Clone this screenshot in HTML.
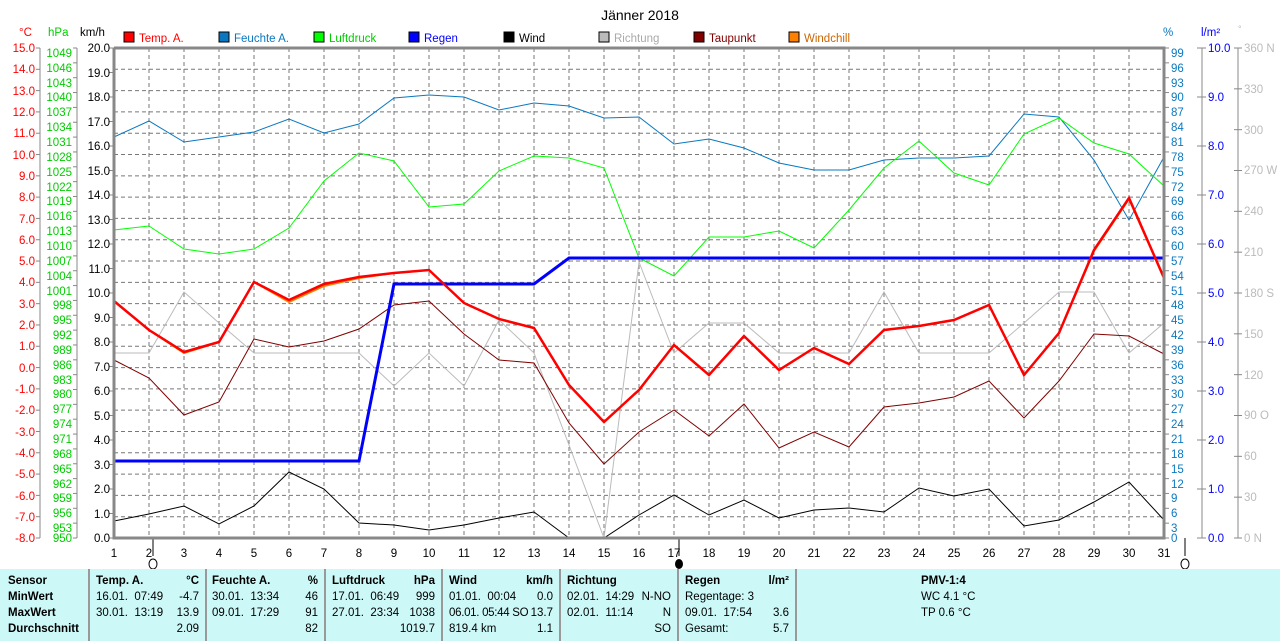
<!DOCTYPE html>
<html><head><meta charset="utf-8"><style>
body{margin:0;background:#fff;width:1280px;height:641px;overflow:hidden;font-family:"Liberation Sans",sans-serif}
svg text{font-family:"Liberation Sans",sans-serif;font-size:11.5px}
.tbl{position:absolute;left:0;top:569px;width:1280px;height:72px;background:#ccf8f8;font-size:11.5px}
.col{position:absolute;top:0;height:72px;border-left:2px solid #999;box-sizing:border-box}
.r{position:absolute;white-space:nowrap}
</style></head><body>
<svg width="1280" height="569" style="position:absolute;left:0;top:0" xmlns="http://www.w3.org/2000/svg">
<text x="640" y="20" text-anchor="middle" style="font-size:14px">Jänner 2018</text>
<g id="grid" stroke="#777" stroke-dasharray="4,3" stroke-width="1"></g>
<g>
<rect x="124" y="32" width="10" height="10" fill="#f00" stroke="#000"/><text x="139" y="42" fill="#f00">Temp. A.</text>
<rect x="219" y="32" width="10" height="10" fill="#0a78c0" stroke="#000"/><text x="234" y="42" fill="#0a78c0">Feuchte A.</text>
<rect x="314" y="32" width="10" height="10" fill="#0f0" stroke="#000"/><text x="329" y="42" fill="#0c0">Luftdruck</text>
<rect x="409" y="32" width="10" height="10" fill="#00f" stroke="#000"/><text x="424" y="42" fill="#00f">Regen</text>
<rect x="504" y="32" width="10" height="10" fill="#000" stroke="#000"/><text x="519" y="42" fill="#000">Wind</text>
<rect x="599" y="32" width="10" height="10" fill="#bbb" stroke="#000"/><text x="614" y="42" fill="#aaa">Richtung</text>
<rect x="694" y="32" width="10" height="10" fill="#800000" stroke="#000"/><text x="709" y="42" fill="#800000">Taupunkt</text>
<rect x="789" y="32" width="10" height="10" fill="#ff8000" stroke="#000"/><text x="804" y="42" fill="#c60">Windchill</text>
</g>
<text x="19" y="36" fill="#f00">°C</text><text x="48" y="36" fill="#0c0">hPa</text><text x="80" y="36">km/h</text>
<text x="1163" y="36" fill="#0a78c0">%</text><text x="1201" y="36" fill="#00f">l/m²</text><text x="1238" y="32" fill="#bbb" style="font-size:9px">°</text>
<line x1="40" y1="48" x2="40" y2="538" stroke="#888"/>
<line x1="77" y1="48" x2="77" y2="538" stroke="#888"/>
<line x1="1202" y1="48" x2="1202" y2="538" stroke="#888"/>
<line x1="1238" y1="48" x2="1238" y2="538" stroke="#888"/>
<g id="ticks" stroke="#888"></g>
<g text-anchor="end" fill="#f00">
<text x="35" y="52">15.0</text><text x="35" y="73">14.0</text><text x="35" y="95">13.0</text><text x="35" y="116">12.0</text><text x="35" y="137">11.0</text><text x="35" y="159">10.0</text><text x="35" y="180">9.0</text><text x="35" y="201">8.0</text><text x="35" y="223">7.0</text><text x="35" y="244">6.0</text><text x="35" y="265">5.0</text><text x="35" y="286">4.0</text><text x="35" y="308">3.0</text><text x="35" y="329">2.0</text><text x="35" y="350">1.0</text><text x="35" y="372">0.0</text><text x="35" y="393">-1.0</text><text x="35" y="414">-2.0</text><text x="35" y="436">-3.0</text><text x="35" y="457">-4.0</text><text x="35" y="478">-5.0</text><text x="35" y="500">-6.0</text><text x="35" y="521">-7.0</text><text x="35" y="542">-8.0</text>
</g>
<g text-anchor="end" fill="#0c0">
<text x="72" y="57">1049</text><text x="72" y="72">1046</text><text x="72" y="87">1043</text><text x="72" y="101">1040</text><text x="72" y="116">1037</text><text x="72" y="131">1034</text><text x="72" y="146">1031</text><text x="72" y="161">1028</text><text x="72" y="176">1025</text><text x="72" y="191">1022</text><text x="72" y="205">1019</text><text x="72" y="220">1016</text><text x="72" y="235">1013</text><text x="72" y="250">1010</text><text x="72" y="265">1007</text><text x="72" y="280">1004</text><text x="72" y="295">1001</text><text x="72" y="309">998</text><text x="72" y="324">995</text><text x="72" y="339">992</text><text x="72" y="354">989</text><text x="72" y="369">986</text><text x="72" y="384">983</text><text x="72" y="398">980</text><text x="72" y="413">977</text><text x="72" y="428">974</text><text x="72" y="443">971</text><text x="72" y="458">968</text><text x="72" y="473">965</text><text x="72" y="488">962</text><text x="72" y="502">959</text><text x="72" y="517">956</text><text x="72" y="532">953</text><text x="72" y="542">950</text>
</g>
<g text-anchor="end" fill="#000">
<text x="110" y="52">20.0</text><text x="110" y="77">19.0</text><text x="110" y="101">18.0</text><text x="110" y="126">17.0</text><text x="110" y="150">16.0</text><text x="110" y="175">15.0</text><text x="110" y="199">14.0</text><text x="110" y="224">13.0</text><text x="110" y="248">12.0</text><text x="110" y="273">11.0</text><text x="110" y="297">10.0</text><text x="110" y="322">9.0</text><text x="110" y="346">8.0</text><text x="110" y="371">7.0</text><text x="110" y="395">6.0</text><text x="110" y="420">5.0</text><text x="110" y="444">4.0</text><text x="110" y="469">3.0</text><text x="110" y="493">2.0</text><text x="110" y="518">1.0</text><text x="110" y="542">0.0</text>
</g>
<g fill="#0a78c0">
<text x="1171" y="57">99</text><text x="1171" y="72">96</text><text x="1171" y="87">93</text><text x="1171" y="101">90</text><text x="1171" y="116">87</text><text x="1171" y="131">84</text><text x="1171" y="146">81</text><text x="1171" y="161">78</text><text x="1171" y="176">75</text><text x="1171" y="191">72</text><text x="1171" y="205">69</text><text x="1171" y="220">66</text><text x="1171" y="235">63</text><text x="1171" y="250">60</text><text x="1171" y="265">57</text><text x="1171" y="280">54</text><text x="1171" y="295">51</text><text x="1171" y="309">48</text><text x="1171" y="324">45</text><text x="1171" y="339">42</text><text x="1171" y="354">39</text><text x="1171" y="369">36</text><text x="1171" y="384">33</text><text x="1171" y="398">30</text><text x="1171" y="413">27</text><text x="1171" y="428">24</text><text x="1171" y="443">21</text><text x="1171" y="458">18</text><text x="1171" y="473">15</text><text x="1171" y="488">12</text><text x="1171" y="502">9</text><text x="1171" y="517">6</text><text x="1171" y="532">3</text><text x="1171" y="542">0</text>
</g>
<g fill="#00f">
<text x="1208" y="52">10.0</text><text x="1208" y="101">9.0</text><text x="1208" y="150">8.0</text><text x="1208" y="199">7.0</text><text x="1208" y="248">6.0</text><text x="1208" y="297">5.0</text><text x="1208" y="346">4.0</text><text x="1208" y="395">3.0</text><text x="1208" y="444">2.0</text><text x="1208" y="493">1.0</text><text x="1208" y="542">0.0</text>
</g>
<g fill="#bbb">
<text x="1244" y="52">360 N</text><text x="1244" y="93">330</text><text x="1244" y="134">300</text><text x="1244" y="174">270 W</text><text x="1244" y="215">240</text><text x="1244" y="256">210</text><text x="1244" y="297">180 S</text><text x="1244" y="338">150</text><text x="1244" y="379">120</text><text x="1244" y="419">90 O</text><text x="1244" y="460">60</text><text x="1244" y="501">30</text><text x="1244" y="542">0 N</text>
</g>
<g text-anchor="middle">
<text x="114" y="557">1</text><text x="149" y="557">2</text><text x="184" y="557">3</text><text x="219" y="557">4</text><text x="254" y="557">5</text><text x="289" y="557">6</text><text x="324" y="557">7</text><text x="359" y="557">8</text><text x="394" y="557">9</text><text x="429" y="557">10</text><text x="464" y="557">11</text><text x="499" y="557">12</text><text x="534" y="557">13</text><text x="569" y="557">14</text><text x="604" y="557">15</text><text x="639" y="557">16</text><text x="674" y="557">17</text><text x="709" y="557">18</text><text x="744" y="557">19</text><text x="779" y="557">20</text><text x="814" y="557">21</text><text x="849" y="557">22</text><text x="884" y="557">23</text><text x="919" y="557">24</text><text x="954" y="557">25</text><text x="989" y="557">26</text><text x="1024" y="557">27</text><text x="1059" y="557">28</text><text x="1094" y="557">29</text><text x="1129" y="557">30</text><text x="1164" y="557">31</text>
</g>
<line x1="153" y1="538" x2="153" y2="556" stroke="#000"/><ellipse cx="153" cy="564" rx="4" ry="5" fill="none" stroke="#000"/>
<line x1="679" y1="538" x2="679" y2="556" stroke="#000"/><ellipse cx="679" cy="564" rx="4" ry="5" fill="#000"/>
<line x1="1185" y1="538" x2="1185" y2="556" stroke="#000"/><ellipse cx="1185" cy="564" rx="4" ry="5" fill="none" stroke="#000"/>
<g fill="none">
<polyline stroke="#bbb" stroke-width="1" points="114,353 149,353 184,292 219,323 254,353 289,353 324,353 359,353 394,386 429,353 464,386 499,320 534,353 569,445 604,538 639,262 674,353 709,323 744,323 779,353 814,353 849,353 884,292 919,353 954,353 989,353 1024,323 1059,292 1094,292 1129,353 1164,323"/>
<polyline stroke="#000" stroke-width="1" points="114,521 149,514 184,506 219,524 254,506 289,472 324,489 359,523 394,525 429,530 464,525 499,518 534,512 569,538 604,538 639,515 674,495 709,515 744,500 779,518 814,510 849,508 884,512 919,488 954,496 989,489 1024,526 1059,520 1094,502 1129,482 1164,520"/>
<polyline stroke="#0a78c0" stroke-width="1" points="114,137 149,121 184,142 219,137 254,132 289,119 324,133 359,124 394,98 429,95 464,97 499,110 534,103 569,106 604,118 639,117 674,144 709,139 744,148 779,163 814,170 849,170 884,160 919,158 954,158 989,156 1024,114 1059,117 1094,160 1129,220 1164,157"/>
<polyline stroke="#0f0" stroke-width="1" points="114,230 149,226 184,249 219,254 254,249 289,228 324,181 359,153 394,161 429,207 464,204 499,171 534,156 569,158 604,168 639,258 674,276 709,237 744,237 779,231 814,248 849,210 884,168 919,141 954,173 989,185 1024,134 1059,118 1094,143 1129,154 1164,186"/>
<polyline stroke="#800000" stroke-width="1" points="114,360 149,378 184,415 219,402 254,339 289,347 324,341 359,329 394,305 429,301 464,334 499,360 534,363 569,423 604,464 639,432 674,410 709,436 744,404 779,448 814,432 849,447 884,407 919,403 954,397 989,381 1024,418 1059,381 1094,334 1129,336 1164,354"/>
<polyline stroke="#00f" stroke-width="3" points="114,461 359,461 394,284 534,284 569,258 1164,258"/>
<polyline stroke="#ff8000" stroke-width="2" points="114,301 149,330 184,353 219,342 254,282 289,302 324,286 359,278 394,273 429,270 464,303 499,319 534,328 569,385 604,422 639,390 674,345 709,375 744,336 779,370 814,348 849,364 884,330 919,326 954,320 989,305 1024,375 1059,333 1094,251 1129,199 1164,278"/>
<polyline stroke="#f00" stroke-width="2.5" points="114,301 149,330 184,352 219,342 254,282 289,300 324,284 359,277 394,273 429,270 464,303 499,319 534,328 569,385 604,422 639,390 674,345 709,375 744,336 779,370 814,348 849,364 884,330 919,326 954,320 989,305 1024,375 1059,333 1094,250 1129,198 1164,278"/>
</g>
<polyline points="114,48 1164,48 1164,538 114,538 114,48" fill="none" stroke="#888" stroke-width="3"/>
</svg>
<script>
(function(){var g=document.getElementById('grid'),t=document.getElementById('ticks'),s='',u='';
for(var i=1;i<23;i++){var y=48+i*490/23;s+='<line x1="114" y1="'+y+'" x2="1164" y2="'+y+'"/>';}
for(var d=1;d<30;d++){var x=114+35*d;s+='<line x1="'+x+'" y1="48" x2="'+x+'" y2="538"/>';}
g.innerHTML=s;
for(i=0;i<=23;i++){y=48+i*490/23;u+='<line x1="36" y1="'+y+'" x2="40" y2="'+y+'"/>';}
for(i=0;i<=33;i++){y=48+i*490/33;u+='<line x1="73" y1="'+y+'" x2="77" y2="'+y+'"/><line x1="1164" y1="'+y+'" x2="1169" y2="'+y+'"/>';}
for(i=0;i<=20;i++){y=48+i*24.5;u+='<line x1="109" y1="'+y+'" x2="114" y2="'+y+'"/>';}
for(i=0;i<=10;i++){y=48+i*49;u+='<line x1="1197" y1="'+y+'" x2="1206" y2="'+y+'"/>';}
for(i=0;i<=12;i++){y=48+i*490/12;u+='<line x1="1234" y1="'+y+'" x2="1242" y2="'+y+'"/>';}
t.innerHTML=u;})();
</script>
<div class="tbl">
<div class="r" style="left:8px;top:6px;font-weight:bold">Sensor</div>
<div class="r" style="left:8px;top:22px;font-weight:bold">MinWert</div>
<div class="r" style="left:8px;top:38px;font-weight:bold">MaxWert</div>
<div class="r" style="left:8px;top:54px;font-weight:bold">Durchschnitt</div>
<div class="col" style="left:88px;width:117px">
<div class="r" style="left:6px;top:6px;font-weight:bold">Temp. A.</div><div class="r" style="right:6px;top:6px;font-weight:bold">°C</div>
<div class="r" style="left:6px;top:22px">16.01.&nbsp; 07:49</div><div class="r" style="right:6px;top:22px">-4.7</div>
<div class="r" style="left:6px;top:38px">30.01.&nbsp; 13:19</div><div class="r" style="right:6px;top:38px">13.9</div>
<div class="r" style="right:6px;top:54px">2.09</div></div>
<div class="col" style="left:205px;width:119px">
<div class="r" style="left:5px;top:6px;font-weight:bold">Feuchte A.</div><div class="r" style="right:6px;top:6px;font-weight:bold">%</div>
<div class="r" style="left:5px;top:22px">30.01.&nbsp; 13:34</div><div class="r" style="right:6px;top:22px">46</div>
<div class="r" style="left:5px;top:38px">09.01.&nbsp; 17:29</div><div class="r" style="right:6px;top:38px">91</div>
<div class="r" style="right:6px;top:54px">82</div></div>
<div class="col" style="left:324px;width:117px">
<div class="r" style="left:6px;top:6px;font-weight:bold">Luftdruck</div><div class="r" style="right:6px;top:6px;font-weight:bold">hPa</div>
<div class="r" style="left:6px;top:22px">17.01.&nbsp; 06:49</div><div class="r" style="right:6px;top:22px">999</div>
<div class="r" style="left:6px;top:38px">27.01.&nbsp; 23:34</div><div class="r" style="right:6px;top:38px">1038</div>
<div class="r" style="right:6px;top:54px">1019.7</div></div>
<div class="col" style="left:441px;width:118px">
<div class="r" style="left:6px;top:6px;font-weight:bold">Wind</div><div class="r" style="right:6px;top:6px;font-weight:bold">km/h</div>
<div class="r" style="left:6px;top:22px">01.01.&nbsp; 00:04</div><div class="r" style="right:6px;top:22px">0.0</div>
<div class="r" style="left:6px;top:38px;letter-spacing:-0.3px">06.01. 05:44 SO</div><div class="r" style="right:6px;top:38px">13.7</div>
<div class="r" style="left:6px;top:54px">819.4 km</div><div class="r" style="right:6px;top:54px">1.1</div></div>
<div class="col" style="left:559px;width:118px">
<div class="r" style="left:6px;top:6px;font-weight:bold">Richtung</div>
<div class="r" style="left:6px;top:22px">02.01.&nbsp; 14:29</div><div class="r" style="right:6px;top:22px">N-NO</div>
<div class="r" style="left:6px;top:38px">02.01.&nbsp; 11:14</div><div class="r" style="right:6px;top:38px">N</div>
<div class="r" style="right:6px;top:54px">SO</div></div>
<div class="col" style="left:677px;width:118px">
<div class="r" style="left:6px;top:6px;font-weight:bold">Regen</div><div class="r" style="right:6px;top:6px;font-weight:bold">l/m²</div>
<div class="r" style="left:6px;top:22px">Regentage: 3</div>
<div class="r" style="left:6px;top:38px">09.01.&nbsp; 17:54</div><div class="r" style="right:6px;top:38px">3.6</div>
<div class="r" style="left:6px;top:54px">Gesamt:</div><div class="r" style="right:6px;top:54px">5.7</div></div>
<div class="col" style="left:795px;width:485px">
<div class="r" style="left:124px;top:6px;font-weight:bold">PMV-1:4</div>
<div class="r" style="left:124px;top:22px">WC 4.1 °C</div>
<div class="r" style="left:124px;top:38px">TP 0.6 °C</div></div>
</div>
</body></html>
